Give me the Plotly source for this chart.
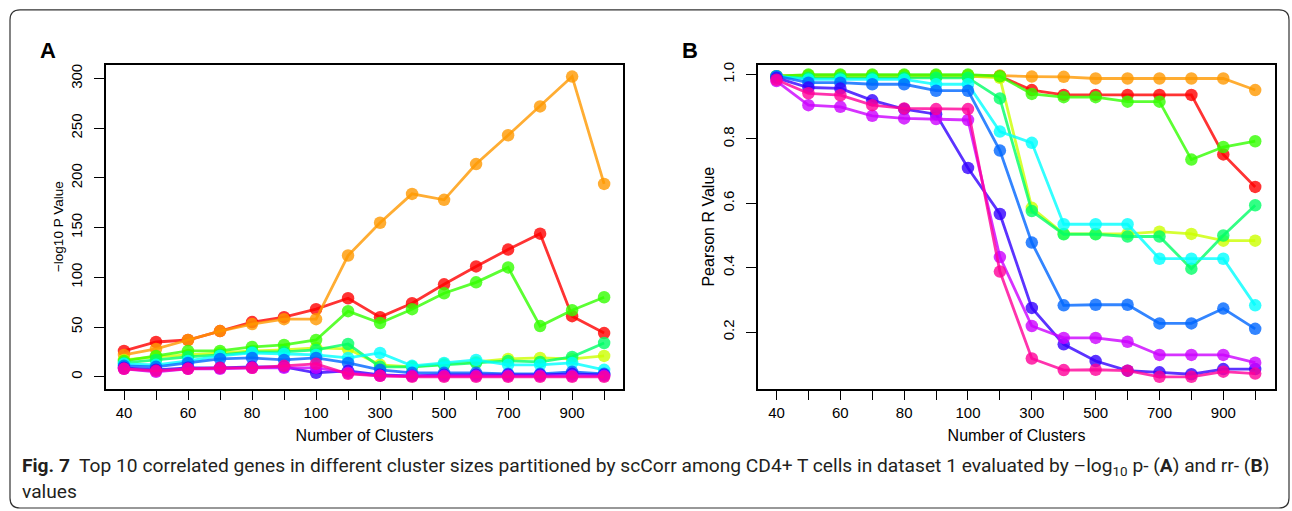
import plotly.graph_objects as go

clusters = ["40", "50", "60", "70", "80", "90", "100", "200", "300", "400",
            "500", "600", "700", "800", "900", "1000"]
tick_labels = ["40", " ", "60", " ", "80", " ", "100", " ", "300", " ", "500", " ", "700", " ", "900", " "]

series_names = ["Gene 1", "Gene 2", "Gene 3", "Gene 4", "Gene 5",
                "Gene 6", "Gene 7", "Gene 8", "Gene 9", "Gene 10"]
colors = ["rgba(255,0,0,0.8)", "rgba(255,153,0,0.8)", "rgba(204,255,0,0.8)",
          "rgba(51,255,0,0.8)", "rgba(0,255,102,0.8)", "rgba(0,255,255,0.8)",
          "rgba(0,102,255,0.8)", "rgba(51,0,255,0.8)", "rgba(204,0,255,0.8)",
          "rgba(255,0,153,0.8)"]

# Panel A: -log10 P value
pval_red = [26, 35, 37, 46, 55, 60, 68, 79, 60, 74, 93, 111, 128, 144, 61, 44]
pval_orange = [22, 28, 37, 46, 53, 58, 58, 122, 155, 184, 178, 214, 243, 272, 302, 194]
pval_yellow = [17, 20, 22, 24, 26, 27, 29, 28, 12, 10, 13, 15, 18, 19, 18, 21]
pval_green = [16, 21, 26, 26, 30, 32, 37, 66, 54, 68, 84, 95, 110, 51, 67, 80]
pval_spring = [14, 17, 20, 22, 25, 25, 27, 33, 10, 10, 12, 14, 16, 15, 20, 34]
pval_cyan = [13, 12, 16, 21, 24, 23, 22, 19, 24, 11, 14, 17, 12, 12, 14, 7]
pval_blue = [11, 10, 14, 18, 19, 17, 19, 14, 7, 4, 4, 4, 3, 3, 5, 3]
pval_indigo = [9, 7, 9, 9, 10, 10, 4, 6, 2, 1, 2, 2, 2, 2, 3, 2]
pval_purple = [8, 5, 8, 8, 9, 9, 9, 4, 1, 1, 1, 1, 1, 1, 1, 1]
pval_pink = [8, 6, 8, 9, 9, 11, 13, 3, 1, 0, 0, 0, 0, 0, 0, 0]

# Panel B: Pearson R value
r_red = [0.995, 0.995, 0.995, 0.995, 0.995, 0.995, 0.995, 0.995, 0.952, 0.937, 0.937, 0.937, 0.937, 0.937, 0.752, 0.651]
r_orange = [0.995, 0.998, 0.998, 0.998, 0.998, 0.998, 0.998, 0.997, 0.994, 0.993, 0.988, 0.988, 0.988, 0.988, 0.988, 0.952]
r_yellow = [0.995, 0.995, 0.995, 0.995, 0.995, 0.995, 0.995, 0.99, 0.586, 0.505, 0.505, 0.505, 0.512, 0.505, 0.484, 0.484]
r_green = [0.995, 1.0, 1.0, 1.0, 1.0, 1.0, 1.0, 0.995, 0.94, 0.93, 0.93, 0.916, 0.916, 0.736, 0.775, 0.793]
r_spring = [0.993, 0.99, 0.99, 0.99, 0.99, 0.99, 0.99, 0.926, 0.576, 0.504, 0.504, 0.497, 0.497, 0.397, 0.5, 0.594]
r_cyan = [0.995, 0.985, 0.985, 0.985, 0.985, 0.97, 0.97, 0.823, 0.788, 0.535, 0.535, 0.535, 0.428, 0.428, 0.428, 0.283]
r_blue = [0.995, 0.975, 0.975, 0.97, 0.97, 0.95, 0.95, 0.764, 0.478, 0.283, 0.285, 0.285, 0.227, 0.227, 0.273, 0.21]
r_indigo = [0.99, 0.96, 0.957, 0.92, 0.893, 0.877, 0.71, 0.567, 0.275, 0.162, 0.11, 0.08, 0.075, 0.069, 0.085, 0.085]
r_purple = [0.98, 0.905, 0.9, 0.872, 0.864, 0.862, 0.859, 0.433, 0.219, 0.182, 0.182, 0.17, 0.129, 0.129, 0.129, 0.105]
r_pink = [0.984, 0.942, 0.936, 0.905, 0.895, 0.893, 0.893, 0.388, 0.118, 0.082, 0.083, 0.08, 0.061, 0.061, 0.077, 0.071]

pvals = [pval_red, pval_orange, pval_yellow, pval_green, pval_spring,
         pval_cyan, pval_blue, pval_indigo, pval_purple, pval_pink]
rvals = [r_red, r_orange, r_yellow, r_green, r_spring,
         r_cyan, r_blue, r_indigo, r_purple, r_pink]

xidx = list(range(len(clusters)))
FONT = "Liberation Sans"

fig = go.Figure()
for name, col, ys in zip(series_names, colors, pvals):
    fig.add_trace(go.Scatter(x=xidx, y=ys, mode="lines+markers", name=name,
                             line=dict(color=col, width=2.8),
                             marker=dict(color=col, size=12.5),
                             xaxis="x", yaxis="y", showlegend=False,
                             customdata=clusters))
for name, col, ys in zip(series_names, colors, rvals):
    fig.add_trace(go.Scatter(x=xidx, y=ys, mode="lines+markers", name=name,
                             line=dict(color=col, width=2.8),
                             marker=dict(color=col, size=12.5),
                             xaxis="x2", yaxis="y2", showlegend=False,
                             customdata=clusters))

W, H = 1292, 511
ydom = [1 - 388 / H, 1 - 62 / H]

axis_common = dict(showline=True, mirror=True, linecolor="black", linewidth=1.5,
                   ticks="outside", ticklen=10, tickwidth=1.3, tickcolor="black",
                   showgrid=False, zeroline=False,
                   tickfont=dict(family=FONT, size=15, color="black"))

fig.update_layout(
    width=W, height=H, margin=dict(l=0, r=0, t=0, b=0),
    paper_bgcolor="white", plot_bgcolor="white",
    font=dict(family=FONT, color="black"),
    xaxis=dict(domain=[106 / W, 623 / W], range=[-0.5625, 15.59],
               tickvals=xidx, ticktext=tick_labels, anchor="y",
               title=dict(text="Number of Clusters", font=dict(size=16), standoff=9),
               **axis_common),
    yaxis=dict(domain=ydom, range=[-12, 314], tickvals=[0, 50, 100, 150, 200, 250, 300],
               tickangle=-90, anchor="x", ticklabelstandoff=6,
               title=dict(text="\u2212log10 P Value", font=dict(size=13.5), standoff=2),
               **axis_common),
    xaxis2=dict(domain=[758 / W, 1275 / W], range=[-0.58, 15.62],
                tickvals=xidx, ticktext=tick_labels, anchor="y2",
                title=dict(text="Number of Clusters", font=dict(size=16), standoff=9),
                **axis_common),
    yaxis2=dict(domain=ydom, range=[0.024, 1.031], tickvals=[0.2, 0.4, 0.6, 0.8, 1.0],
                ticktext=["0.2", "0.4", "0.6", "0.8", "1.0"],
                tickangle=-90, anchor="x2", ticklabelstandoff=6,
                title=dict(text="Pearson R Value", font=dict(size=16), standoff=2),
                **axis_common),
)

fig.add_annotation(text="<b>A</b>", x=38 / W, y=1 - 33 / H, xref="paper", yref="paper",
                   showarrow=False, font=dict(family=FONT, size=22, color="black"))
fig.add_annotation(text="<b>B</b>", x=690 / W, y=1 - 33 / H, xref="paper", yref="paper",
                   showarrow=False, font=dict(family=FONT, size=22, color="black"))

cap_font = dict(family="Roboto", size=19.2, color="#231f20")
fig.add_annotation(
    text="<b>Fig. 7</b>  Top 10 correlated genes in different cluster sizes partitioned by scCorr among CD4+ T cells in dataset 1 evaluated by \u2013log<sub>10</sub> p- (<b>A</b>) and rr- (<b>B</b>)",
    x=20 / W, y=1 - 466 / H, xref="paper", yref="paper", xanchor="left", yanchor="middle",
    showarrow=False, font=cap_font, align="left")
fig.add_annotation(text="values", x=20 / W, y=1 - 491 / H, xref="paper", yref="paper",
                   xanchor="left", yanchor="middle", showarrow=False, font=cap_font, align="left")

# rounded figure frame
x0, x1 = 10 / W, 1289 / W
y0, y1 = 1 - 508 / H, 1 - 7 / H
rx, ry = 10 / W, 10 / H
path = (f"M {x0 + rx},{y1} L {x1 - rx},{y1} Q {x1},{y1} {x1},{y1 - ry} "
        f"L {x1},{y0 + ry} Q {x1},{y0} {x1 - rx},{y0} L {x0 + rx},{y0} "
        f"Q {x0},{y0} {x0},{y0 + ry} L {x0},{y1 - ry} Q {x0},{y1} {x0 + rx},{y1} Z")
fig.add_shape(type="path", path=path, xref="paper", yref="paper",
              line=dict(color="#333333", width=1.2), layer="below")

fig.write_html("out.html")
